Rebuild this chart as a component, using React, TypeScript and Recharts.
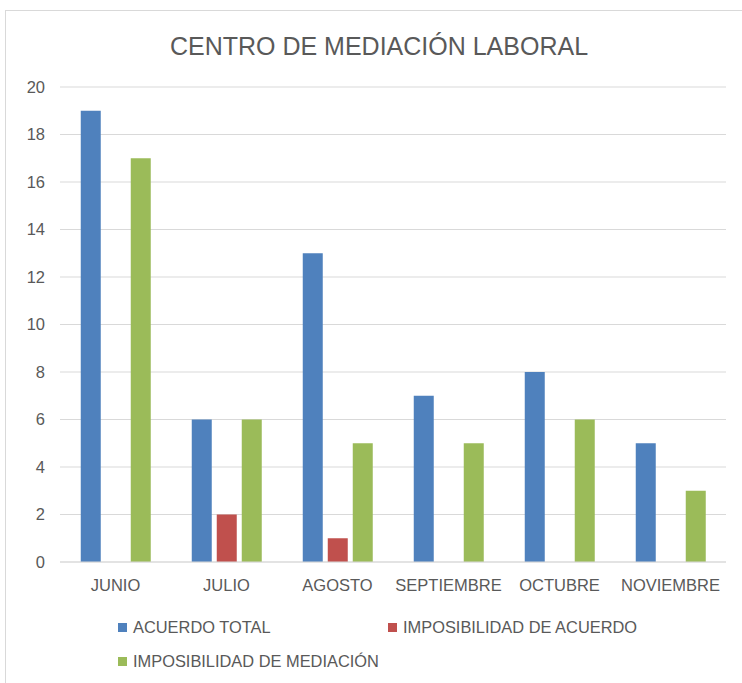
import React from "react";
import { BarChart, Bar, XAxis, YAxis, CartesianGrid } from "recharts";

const categories = ["JUNIO", "JULIO", "AGOSTO", "SEPTIEMBRE", "OCTUBRE", "NOVIEMBRE"];
const acuerdoTotal = [19, 6, 13, 7, 8, 5];
const imposibilidadAcuerdo = [0, 2, 1, 0, 0, 0];
const imposibilidadMediacion = [17, 6, 5, 5, 6, 3];
const yTicks = [0, 2, 4, 6, 8, 10, 12, 14, 16, 18, 20];

const seriesNames = ["ACUERDO TOTAL", "IMPOSIBILIDAD DE ACUERDO", "IMPOSIBILIDAD DE MEDIACIÓN"];
const colors = ["#4F81BD", "#C0504D", "#9BBB59"];

const data = categories.map((c, i) => ({
  name: c,
  a: acuerdoTotal[i],
  b: imposibilidadAcuerdo[i],
  c: imposibilidadMediacion[i],
}));

const FONT = "'Liberation Sans', Arial, sans-serif";
const TXT = "#595959";

const legendPos = [
  { left: 118, top: 622 },
  { left: 388, top: 622 },
  { left: 118, top: 656 },
];

const LegendBlock = () => (
  <>
    {seriesNames.map((n, i) => (
      <div
        key={n}
        style={{
          position: "absolute",
          left: legendPos[i].left,
          top: legendPos[i].top,
          display: "flex",
          alignItems: "center",
          height: 10,
          whiteSpace: "nowrap",
        }}
      >
        <span style={{ display: "inline-block", width: 9, height: 9, background: colors[i], marginRight: 6 }} />
        <span style={{ fontFamily: FONT, fontSize: 16.4, color: TXT, lineHeight: "10px" }}>{n}</span>
      </div>
    ))}
  </>
);

export default function App() {
  return (
    <div style={{ position: "absolute", left: 0, top: 0, width: 742, height: 683, background: "#fff", overflow: "hidden" }}>
      <div
        style={{
          position: "absolute",
          left: 5,
          top: 10,
          width: 740,
          height: 680,
          borderLeft: "1.5px solid #d9d9d9",
          borderTop: "1.5px solid #d9d9d9",
        }}
      />
      <div
        style={{
          position: "absolute",
          left: 0,
          width: 758,
          top: 30,
          textAlign: "center",
          fontFamily: FONT,
          fontSize: 25,
          color: TXT,
          lineHeight: "32px",
        }}
      >
        CENTRO DE MEDIACIÓN LABORAL
      </div>
      <div style={{ position: "absolute", left: 0, top: 0 }}>
        <BarChart
          width={742}
          height={683}
          data={data}
          margin={{ top: 87, right: 16, bottom: 91, left: 0 }}
          barCategoryGap="18.7%"
          barGap={5}
        >
          <CartesianGrid vertical={false} stroke="#d9d9d9" strokeWidth={1.2} />
          <XAxis
            dataKey="name"
            tickLine={false}
            tickSize={0}
            tickMargin={17}
            axisLine={{ stroke: "#d9d9d9", strokeWidth: 1.2 }}
            tick={{ fill: TXT, fontFamily: FONT, fontSize: 16.5 }}
            interval={0}
            height={30}
          />
          <YAxis
            width={60}
            domain={[0, 20]}
            ticks={yTicks}
            tickLine={false}
            axisLine={false}
            tickSize={0}
            tickMargin={15}
            tick={{ fill: TXT, fontFamily: FONT, fontSize: 16.5 }}
          />
          <Bar dataKey="a" name={seriesNames[0]} fill={colors[0]} isAnimationActive={false} />
          <Bar dataKey="b" name={seriesNames[1]} fill={colors[1]} isAnimationActive={false} />
          <Bar dataKey="c" name={seriesNames[2]} fill={colors[2]} isAnimationActive={false} />
        </BarChart>
      </div>
      <LegendBlock />
    </div>
  );
}
